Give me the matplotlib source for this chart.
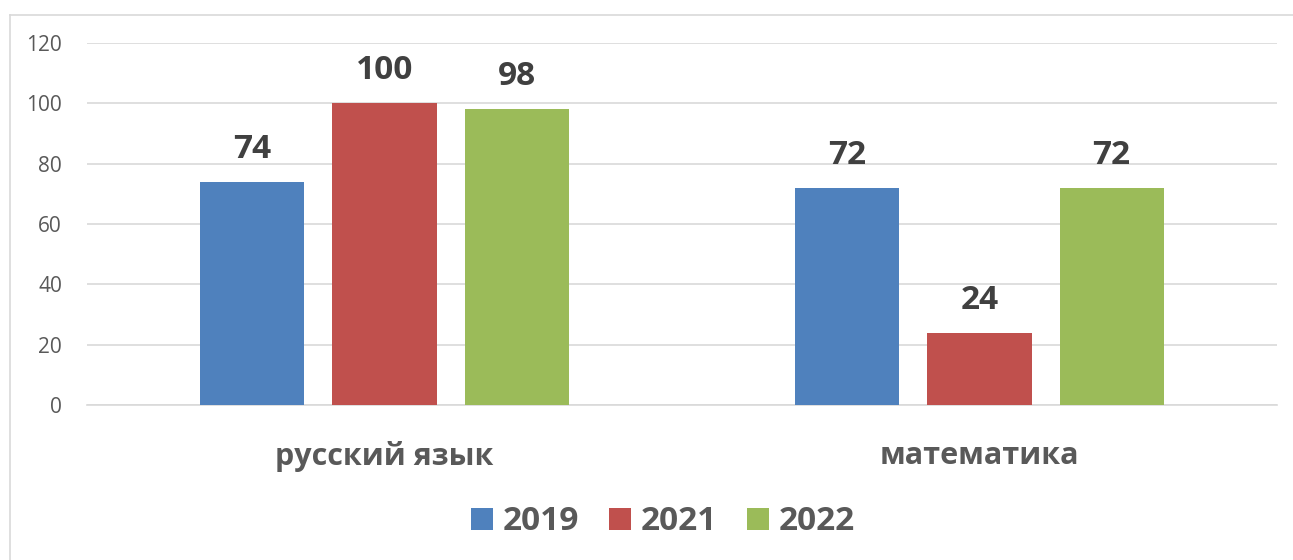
import numpy as np
import matplotlib.pyplot as plt
from matplotlib.lines import Line2D

categories = ['русский язык', 'математика']
years = ['2019', '2021', '2022']
values = {
    '2019': [74, 72],
    '2021': [100, 24],
    '2022': [98, 72],
}
colors = ['#4F81BD', '#C0504D', '#9BBB59']

plt.rcParams['font.family'] = ['Open Sans', 'DejaVu Sans']

fig = plt.figure(figsize=(12.93, 5.6), dpi=100)
ax = fig.add_axes([0.0673, 0.2768, 0.9203, 0.6464])

# light frame (top and left edges visible)
fx = 9.5 / 1293
fy = 1 - 14.5 / 560
fig.lines.append(Line2D([fx, 1.0], [fy, fy], transform=fig.transFigure,
                        color='#D9D9D9', linewidth=1.2))
fig.lines.append(Line2D([fx, fx], [0.0, fy], transform=fig.transFigure,
                        color='#D9D9D9', linewidth=1.2))

x = np.arange(len(categories))
width = 0.175
step = 0.222
for i, (yr, c) in enumerate(zip(years, colors)):
    pos = x + (i - 1) * step
    bars = ax.bar(pos, values[yr], width, color=c, label=yr, zorder=3)
    for b, v in zip(bars, values[yr]):
        ax.text(b.get_x() + b.get_width() / 2, v + 5.3, str(v), ha='center', va='bottom',
                fontsize=24, fontweight='bold', color='#404040')

ax.set_xlim(-0.5, 1.5)
ax.set_ylim(0, 120)
ax.set_yticks(range(0, 121, 20))
ax.yaxis.grid(True, color='#D9D9D9', linewidth=1.2, zorder=0)
ax.tick_params(axis='y', length=0, labelsize=15, labelcolor='#595959', pad=18)
ax.set_xticks(x)
ax.set_xticklabels(categories, fontsize=22, fontweight='bold', color='#595959')
ax.tick_params(axis='x', length=0, pad=26)
for s in ['top', 'right', 'left']:
    ax.spines[s].set_visible(False)
ax.spines['bottom'].set_color('#D9D9D9')
ax.spines['bottom'].set_linewidth(1.2)

leg = fig.legend(loc='center', bbox_to_anchor=(0.513, 1 - 522 / 560), ncol=3, frameon=False,
                 handlelength=0.65, handleheight=0.65, handletextpad=0.3, columnspacing=0.9,
                 prop={'size': 24, 'weight': 'bold'})
for t in leg.get_texts():
    t.set_color('#595959')

fig.savefig('out.png', dpi=100)
